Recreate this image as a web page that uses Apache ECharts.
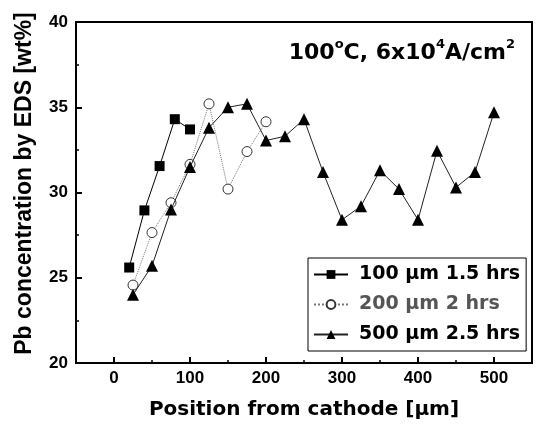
<!DOCTYPE html>
<html>
<head>
<meta charset="utf-8">
<script src="https://cdn.jsdelivr.net/npm/echarts@6/dist/echarts.min.js"></script>
<style>
html,body{margin:0;padding:0;background:#fff;}
#c{width:540px;height:428px;}
</style>
</head>
<body>
<div id="c"></div>
<script>
const FONT = "'Liberation Sans', Arial, sans-serif";
const WIDE = "'DejaVu Sans', 'Liberation Sans', sans-serif";

const names = ['100 \u03bcm 1.5 hrs', '200 \u03bcm 2 hrs', '500 \u03bcm 2.5 hrs'];

const x100 = [20, 40, 60, 80, 100];
const y100 = [25.6, 28.95, 31.55, 34.3, 33.7];

const x200 = [25, 50, 75, 100, 125, 150, 175, 200];
const y200 = [24.57, 27.65, 29.4, 31.65, 35.2, 30.2, 32.4, 34.15];

const x500 = [25, 50, 75, 100, 125, 150, 175, 200, 225, 250, 275, 300, 325, 350, 375, 400, 425, 450, 475, 500];
const y500 = [24.0, 25.7, 29.0, 31.5, 33.8, 35.0, 35.2, 33.05, 33.3, 34.3, 31.2, 28.4, 29.2, 31.3, 30.2, 28.4, 32.45, 30.3, 31.2, 34.7];

const xMajorTicks = [0, 100, 200, 300, 400, 500];
const xMinorTicks = [50, 150, 250, 350, 450];

function pairs(xs, ys) { return xs.map((x, i) => [x, ys[i]]); }

const chart = echarts.init(document.getElementById('c'), null, {renderer: 'canvas'});

chart.setOption({
  animation: false,
  backgroundColor: '#fff',
  title: {
    text: '{a|100}{s|o}{a|C, 6x10}{s|4}{a|A/cm}{s|2}',
    right: 20,
    top: 33,
    textStyle: {
      rich: {
        a: {fontFamily: WIDE, fontWeight: 'bold', fontSize: 22, color: '#000', lineHeight: 26, verticalAlign: 'bottom'},
        s: {fontFamily: WIDE, fontWeight: 'bold', fontSize: 13, color: '#000', lineHeight: 26, verticalAlign: 'top'}
      }
    }
  },
  grid: {
    left: 76, top: 22, right: 8, bottom: 65,
    show: true, borderColor: '#000', borderWidth: 2, backgroundColor: 'transparent'
  },
  legend: {
    orient: 'vertical',
    left: 308, top: 258,
    width: 214,
    padding: [7, 6, 7, 5],
    itemGap: 11,
    itemWidth: 34,
    itemHeight: 11,
    borderColor: '#000',
    borderWidth: 1,
    backgroundColor: '#fff',
    textStyle: {fontFamily: WIDE, fontWeight: 'bold', fontSize: 19, color: '#000', padding: [0, 0, 0, 6]},
    data: [
      {name: names[0]},
      {name: names[1], textStyle: {color: '#555'}},
      {name: names[2]}
    ]
  },
  xAxis: [{
    type: 'value',
    min: -50, max: 550,
    name: 'Position from cathode [\u03bcm]',
    nameLocation: 'middle',
    nameGap: 37,
    nameTextStyle: {fontFamily: WIDE, fontWeight: 'bold', fontSize: 20, color: '#000'},
    axisLine: {show: true, onZero: false, lineStyle: {color: '#000', width: 2}},
    axisTick: {show: true, inside: true, length: 6, lineStyle: {color: '#000', width: 2}, customValues: xMajorTicks},
    axisLabel: {fontFamily: FONT, fontWeight: 'bold', fontSize: 17, color: '#000', margin: 7, customValues: xMajorTicks},
    splitLine: {show: false}
  }, {
    type: 'value',
    min: -50, max: 550,
    position: 'bottom',
    axisLine: {show: false, onZero: false},
    axisTick: {show: true, inside: true, length: 3, lineStyle: {color: '#000', width: 1.5}, customValues: xMinorTicks},
    axisLabel: {show: false},
    splitLine: {show: false}
  }],
  yAxis: {
    type: 'value',
    min: 20, max: 40, interval: 5,
    name: 'Pb concentration by EDS [wt%]',
    nameLocation: 'middle',
    nameGap: 40,
    nameTextStyle: {fontFamily: FONT, fontWeight: 'bold', fontSize: 23, color: '#000', padding: [0, 0, 0, 18]},
    axisLine: {show: true, onZero: false, lineStyle: {color: '#000', width: 2}},
    axisTick: {show: true, inside: true, length: 6, lineStyle: {color: '#000', width: 2}},
    minorTick: {show: true, splitNumber: 2, length: 3, lineStyle: {color: '#000', width: 1.5}},
    axisLabel: {fontFamily: FONT, fontWeight: 'bold', fontSize: 17, color: '#000', margin: 8},
    splitLine: {show: false}
  },
  series: [
    {
      name: names[0], type: 'line', xAxisIndex: 0,
      data: pairs(x100, y100),
      symbol: 'rect', symbolSize: 10,
      itemStyle: {color: '#000'},
      lineStyle: {color: '#000', width: 1},
      z: 3
    },
    {
      name: names[1], type: 'line', xAxisIndex: 0,
      data: pairs(x200, y200),
      symbol: 'circle', symbolSize: 10,
      itemStyle: {color: '#fff', borderColor: '#333', borderWidth: 1},
      lineStyle: {color: '#777', width: 1, type: 'dotted'},
      z: 2
    },
    {
      name: names[2], type: 'line', xAxisIndex: 0,
      data: pairs(x500, y500),
      symbol: 'triangle', symbolSize: 12,
      itemStyle: {color: '#000'},
      lineStyle: {color: '#222', width: 1},
      z: 4
    }
  ]
});
</script>
</body>
</html>
